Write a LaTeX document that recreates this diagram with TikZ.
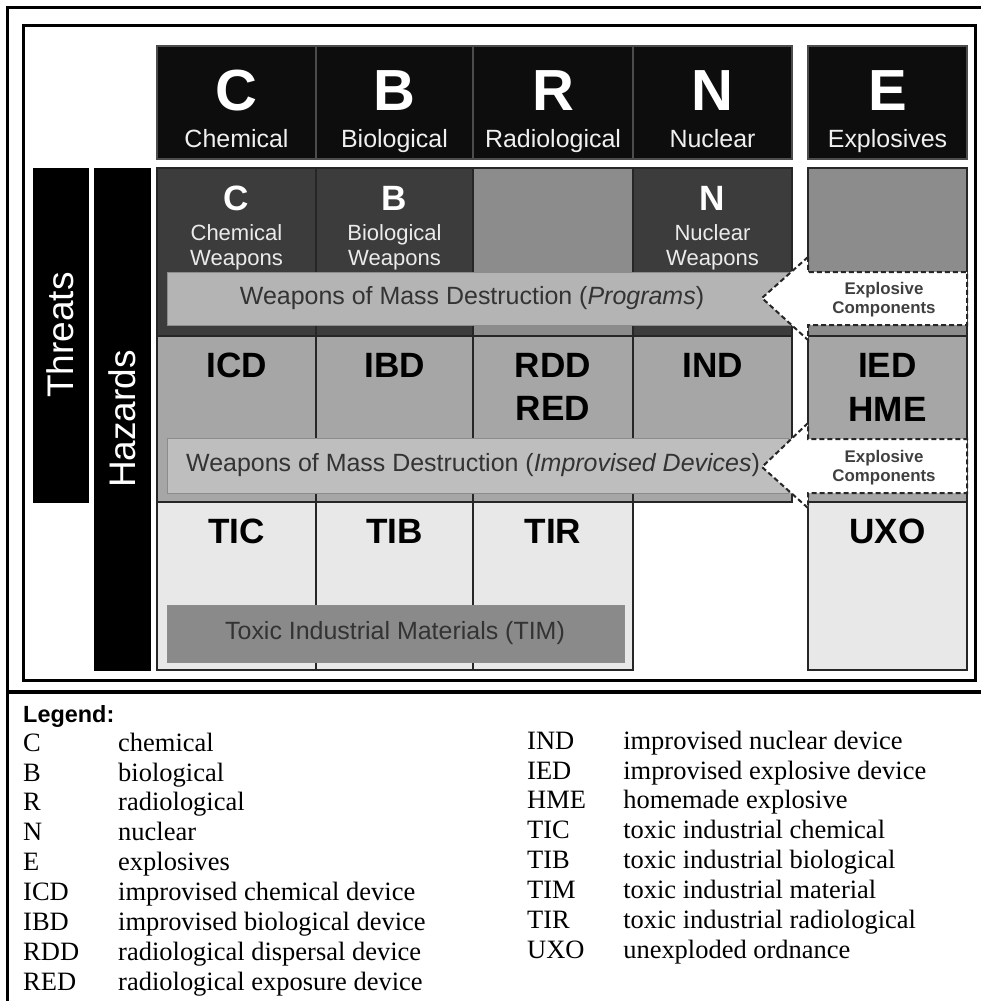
\documentclass[tikz,border=0pt]{standalone}
\usepackage{fontspec}
\setmainfont{Liberation Serif}
\setsansfont{Liberation Sans}

\newdimen\pxu
\pxu=0.03cm

\definecolor{rowDark}{HTML}{3C3C3C}
\definecolor{rowMid}{HTML}{8C8C8C}
\definecolor{rowDev}{HTML}{A6A6A6}
\definecolor{rowTox}{HTML}{E8E8E8}
\definecolor{barProg}{HTML}{B4B4B4}
\definecolor{barDev}{HTML}{BEBEBE}
\definecolor{barTim}{HTML}{8A8A8A}
\definecolor{textGray}{HTML}{333333}

\tikzset{
	cell/.style={rectangle, draw=black!85, line width=2\pxu, inner sep=0pt, outer sep=0pt},
	headCell/.style={cell, fill=black!95, draw=black!70},
	bigLetter/.style={text=white, anchor=base, inner sep=0pt, font=\sffamily\bfseries\fontsize{49.5}{50}\selectfont},
	headName/.style={text=white!94!black, anchor=base, inner sep=0pt, font=\sffamily\fontsize{21.3}{22}\selectfont},
	weapLetter/.style={text=white, anchor=base, inner sep=0pt, font=\sffamily\bfseries\fontsize{30}{31}\selectfont},
	weapName/.style={text=white!92!black, anchor=base, inner sep=0pt, font=\sffamily\fontsize{18.8}{20}\selectfont},
	devCode/.style={text=black, anchor=base, inner sep=0pt, font=\sffamily\bfseries\fontsize{30}{31}\selectfont},
	wmdBar/.style={rectangle, draw=black!45, line width=1\pxu, inner sep=0pt, outer sep=0pt},
	barText/.style={text=textGray, inner sep=0pt, font=\sffamily\fontsize{21.3}{22}\selectfont},
	sideBar/.style={rectangle, fill=black, draw=black, inner sep=0pt, text=white, font=\sffamily\fontsize{31.6}{32}\selectfont},
	explArrow/.style={draw=black!85, fill=white, dash pattern=on 5\pxu off 3\pxu, line width=2\pxu},
	explText/.style={text=black!75, align=center, inner sep=0pt, font=\sffamily\bfseries\fontsize{14.4}{16.2}\selectfont},
	legendCol/.style={anchor=base west, inner sep=0pt, font=\fontsize{22.6}{25.6}\selectfont}
}

\begin{document}
\begin{tikzpicture}[x=0.03cm, y=-0.03cm]
	\useasboundingbox (0,0) rectangle (981,1001);

	% outer frame and legend separator
	\draw[line width=3\pxu] (7,1001) -- (7,7) -- (981,7);
	\draw[line width=3.5\pxu] (7,692) -- (981,692);
	\node[rectangle, draw=black, line width=3\pxu, fill=white, minimum width=952\pxu, minimum height=655\pxu, inner sep=0pt](innerFrame) at (499.75,352.5){};

	% draw side bars
	\node[sideBar, rotate=90, minimum width=334\pxu, minimum height=55\pxu](threatsBar) at (60.5,335){Threats};
	\node[sideBar, rotate=90, minimum width=502\pxu, minimum height=56\pxu](hazardsBar) at (122,419){Hazards};

	% draw header boxes
	\node[headCell, minimum width=159\pxu, minimum height=113\pxu](headC) at (236.5,102.5){};
	\node[bigLetter](headCLetter) at (236.5,110){C};
	\node[headName](headCName) at (236.5,147){Chemical};

	\node[headCell, minimum width=157\pxu, minimum height=113\pxu](headB) at (394.5,102.5){};
	\node[bigLetter](headBLetter) at (394.5,110){B};
	\node[headName](headBName) at (394.5,147){Biological};

	\node[headCell, minimum width=160\pxu, minimum height=113\pxu](headR) at (553,102.5){};
	\node[bigLetter](headRLetter) at (553,110){R};
	\node[headName](headRName) at (553,147){Radiological};

	\node[headCell, minimum width=159\pxu, minimum height=113\pxu](headN) at (712.5,102.5){};
	\node[bigLetter](headNLetter) at (712.5,110){N};
	\node[headName](headNName) at (712.5,147){Nuclear};

	\node[headCell, minimum width=159\pxu, minimum height=113\pxu](headE) at (887.5,102.5){};
	\node[bigLetter](headELetter) at (887.5,110){E};
	\node[headName](headEName) at (887.5,147){Explosives};

	% draw weapons boxes
	\node[cell, fill=rowDark, minimum width=159\pxu, minimum height=168\pxu](weapC) at (236.5,252){};
	\node[weapLetter](weapCLetter) at (236.5,210){C};
	\node[weapName](weapCName1) at (236.5,240){Chemical};
	\node[weapName](weapCName2) at (236.5,265){Weapons};

	\node[cell, fill=rowDark, minimum width=157\pxu, minimum height=168\pxu](weapB) at (394.5,252){};
	\node[weapLetter](weapBLetter) at (394.5,210){B};
	\node[weapName](weapBName1) at (394.5,240){Biological};
	\node[weapName](weapBName2) at (394.5,265){Weapons};

	\node[cell, fill=rowMid, minimum width=160\pxu, minimum height=168\pxu](weapR) at (553,252){};

	\node[cell, fill=rowDark, minimum width=159\pxu, minimum height=168\pxu](weapN) at (712.5,252){};
	\node[weapLetter](weapNLetter) at (712.5,210){N};
	\node[weapName](weapNName1) at (712.5,240){Nuclear};
	\node[weapName](weapNName2) at (712.5,265){Weapons};

	\node[cell, fill=rowMid, minimum width=159\pxu, minimum height=168\pxu](weapE) at (887.5,252){};

	\node[wmdBar, fill=barProg, minimum width=623\pxu, minimum height=53\pxu](progBar) at (478.5,298.5){};
	\node[barText](progText) at (472,298.5){Weapons of Mass Destruction (\textit{Programs})};

	% draw improvised device boxes
	\node[cell, fill=rowDev, minimum width=159\pxu, minimum height=166\pxu](devC) at (236.5,419){};
	\node[devCode](icd) at (236.5,377){ICD};

	\node[cell, fill=rowDev, minimum width=157\pxu, minimum height=166\pxu](devB) at (394.5,419){};
	\node[devCode](ibd) at (394.5,377){IBD};

	\node[cell, fill=rowDev, minimum width=160\pxu, minimum height=166\pxu](devR) at (553,419){};
	\node[devCode](rdd) at (553,377){RDD};
	\node[devCode](red) at (553,420){RED};

	\node[cell, fill=rowDev, minimum width=159\pxu, minimum height=166\pxu](devN) at (712.5,419){};
	\node[devCode](ind) at (712.5,377){IND};

	\node[cell, fill=rowDev, minimum width=159\pxu, minimum height=166\pxu](devE) at (887.5,419){};
	\node[devCode](ied) at (887.5,377){IED};
	\node[devCode](hme) at (887.5,421){HME};

	\node[wmdBar, fill=barDev, minimum width=621\pxu, minimum height=55\pxu](devBar) at (477.5,465.5){};
	\node[barText](devText) at (473,465.5){Weapons of Mass Destruction (\textit{Improvised Devices})};

	% draw toxic industrial boxes
	\node[cell, fill=rowTox, minimum width=159\pxu, minimum height=168\pxu](toxC) at (236.5,586){};
	\node[devCode](tic) at (236.5,543){TIC};

	\node[cell, fill=rowTox, minimum width=157\pxu, minimum height=168\pxu](toxB) at (394.5,586){};
	\node[devCode](tib) at (394.5,543){TIB};

	\node[cell, fill=rowTox, minimum width=160\pxu, minimum height=168\pxu](toxR) at (553,586){};
	\node[devCode](tir) at (553,543){TIR};

	\node[cell, fill=rowTox, minimum width=159\pxu, minimum height=168\pxu](toxE) at (887.5,586){};
	\node[devCode](uxo) at (887.5,543){UXO};

	\node[wmdBar, fill=barTim, minimum width=457\pxu, minimum height=57\pxu](timBar) at (395.5,633.5){};
	\node[barText](timText) at (395,633.5){Toxic Industrial Materials (TIM)};

	% explosive components arrows
	\draw[explArrow] (808,257) -- (762,298) -- (808,340) -- (808,325) -- (967,325) -- (967,272) -- (808,272) -- cycle;
	\node[explText](explComp1) at (884,300){Explosive\\Components};

	\draw[explArrow] (808,423) -- (762,467) -- (808,508) -- (808,493) -- (967,493) -- (967,439) -- (808,439) -- cycle;
	\node[explText](explComp2) at (884,468){Explosive\\Components};

	% legend
	\node[anchor=base west, inner sep=0pt, font=\sffamily\bfseries\fontsize{20}{22}\selectfont](legendTitle) at (23,722){Legend:};
	\node[legendCol](legendLeft) at (23,751){\begin{tabular}[t]{@{}p{81.1pt}@{}l@{}}
		C & chemical\\
		B & biological\\
		R & radiological\\
		N & nuclear\\
		E & explosives\\
		ICD & improvised chemical device\\
		IBD & improvised biological device\\
		RDD & radiological dispersal device\\
		RED & radiological exposure device
	\end{tabular}};
	\node[legendCol](legendRight) at (527,749){\begin{tabular}[t]{@{}p{82pt}@{}l@{}}
		IND & improvised nuclear device\\
		IED & improvised explosive device\\
		HME & homemade explosive\\
		TIC & toxic industrial chemical\\
		TIB & toxic industrial biological\\
		TIM & toxic industrial material\\
		TIR & toxic industrial radiological\\
		UXO & unexploded ordnance
	\end{tabular}};
\end{tikzpicture}
\end{document}
